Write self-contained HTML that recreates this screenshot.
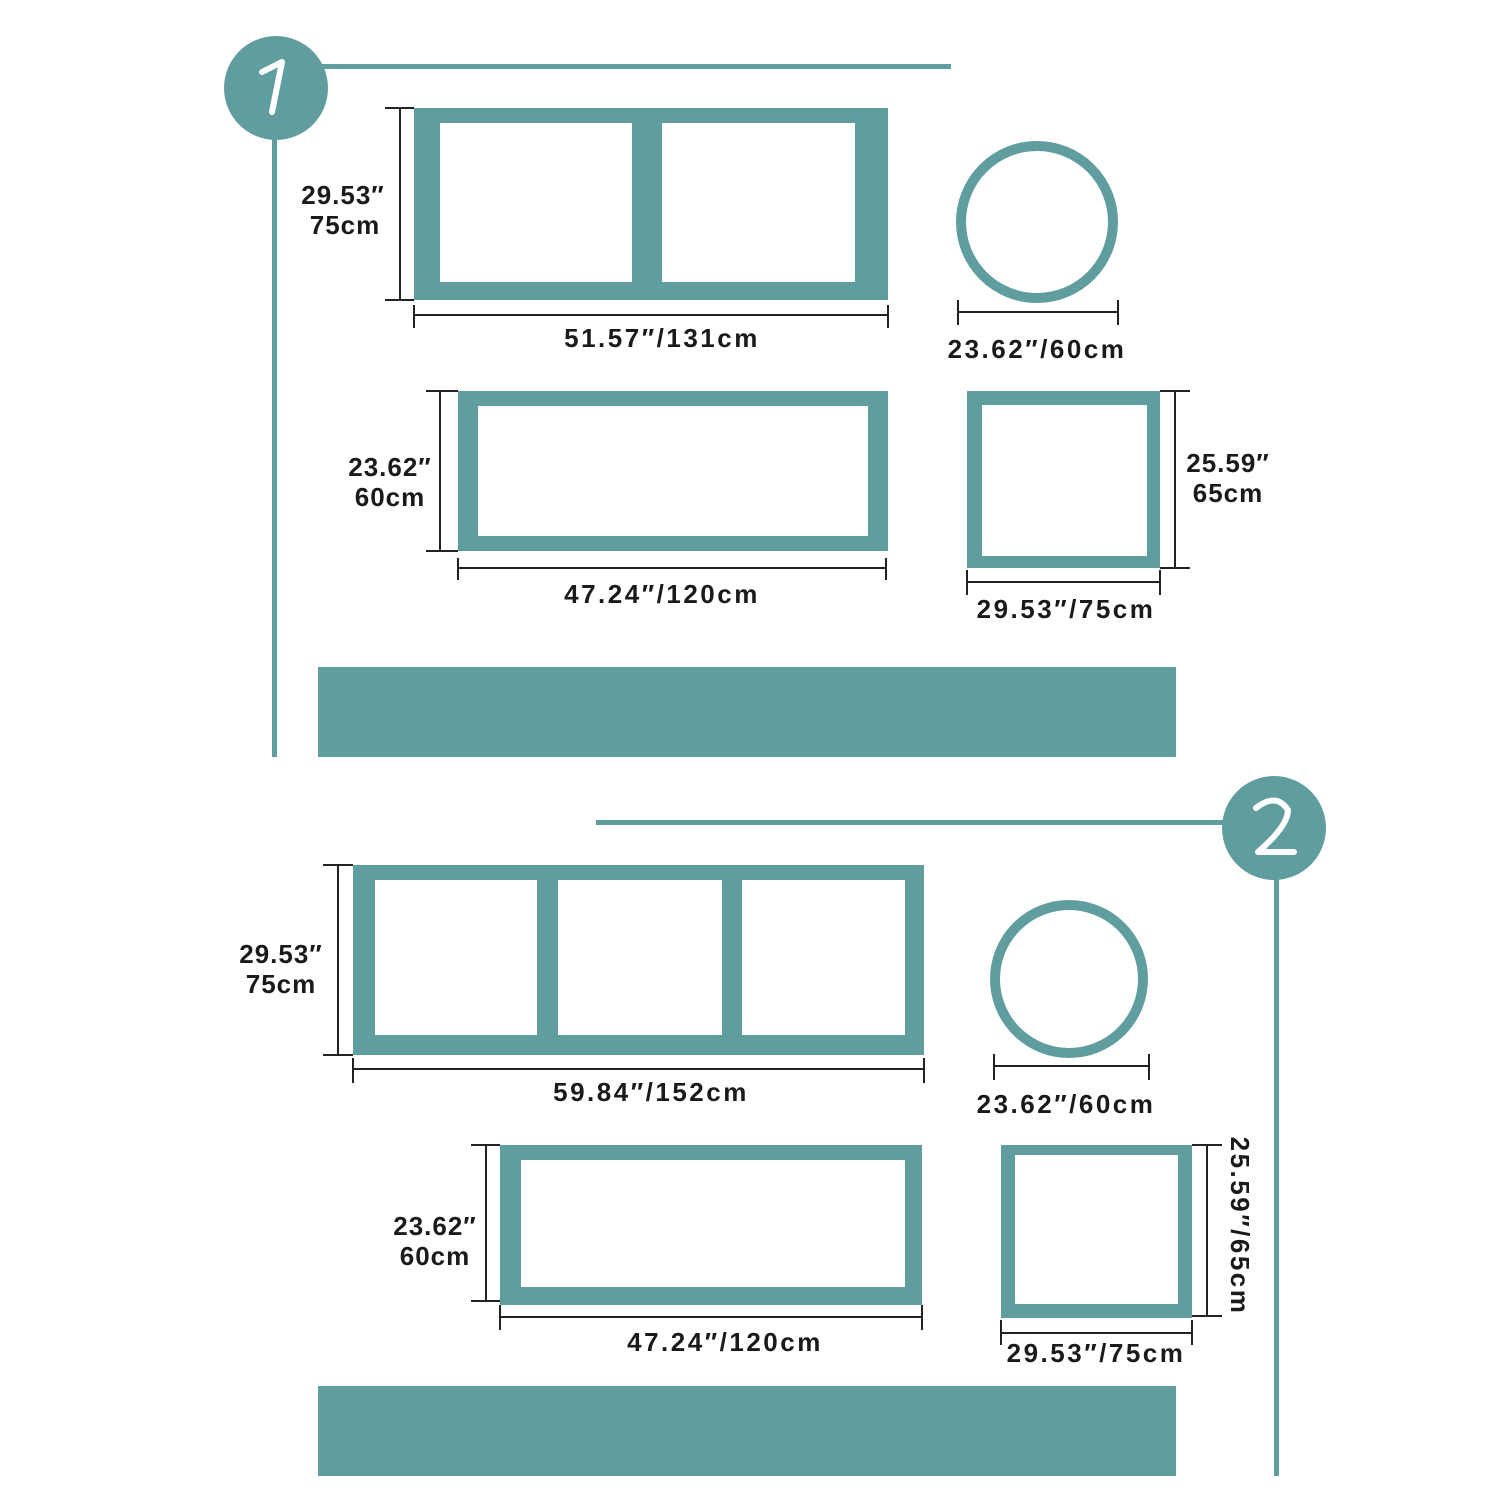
<!DOCTYPE html>
<html><head><meta charset="utf-8"><style>
html,body{margin:0;padding:0;background:#fff}
text{font-family:"Liberation Sans",sans-serif;font-weight:bold;font-size:26px;fill:#1a1a1a;letter-spacing:1px}
text.wide{letter-spacing:2.5px}
</style></head><body>
<svg width="1500" height="1500" viewBox="0 0 1500 1500" xmlns="http://www.w3.org/2000/svg">
<g fill="#609d9f" stroke="none">
<rect x="320" y="64" width="631" height="5"/>
<rect x="272" y="120" width="5" height="637"/>
<circle cx="276" cy="88" r="52"/>
<rect x="414" y="108" width="474" height="192"/>
<rect x="458" y="391" width="430" height="160"/>
<rect x="967" y="391" width="193" height="177"/>
<rect x="318" y="667" width="858" height="90"/>
<rect x="596" y="820" width="630" height="5"/>
<rect x="1274" y="860" width="5" height="616"/>
<circle cx="1274" cy="828" r="52"/>
<rect x="353" y="865" width="571" height="190"/>
<rect x="500" y="1145" width="422" height="160"/>
<rect x="1001" y="1145" width="191" height="173"/>
<rect x="318" y="1386" width="858" height="90"/>
</g>
<g fill="#fff">
<rect x="440" y="123" width="192" height="159"/>
<rect x="662" y="123" width="193" height="159"/>
<rect x="478" y="406" width="390" height="130"/>
<rect x="982" y="405" width="165" height="151"/>
<rect x="375" y="880" width="162" height="155"/>
<rect x="558" y="880" width="164" height="155"/>
<rect x="742" y="880" width="163" height="155"/>
<rect x="521" y="1160" width="384" height="127"/>
<rect x="1015" y="1155" width="163" height="149"/>
</g>
<g fill="none" stroke="#609d9f" stroke-width="10">
<circle cx="1037" cy="222" r="76"/>
<circle cx="1069" cy="979" r="74"/>
</g>
<g fill="none" stroke="#fff" stroke-width="6" stroke-linecap="round" stroke-linejoin="round">
<path d="M262 72 L282 62 L272 112"/>
<path d="M1256 808 Q1276 792 1288 810 Q1288 826 1258 852 L1294 852"/>
</g>
<g stroke="#222" stroke-width="2" fill="none">
<path d="M400 108V300M385 108H414M385 300H414"/>
<path d="M414 315H888M414 305V328M888 305V328"/>
<path d="M958 312H1118M958 300V325M1118 300V325"/>
<path d="M440 391V551M426 391H458M426 551H458"/>
<path d="M458 568H886M458 558V580M886 558V580"/>
<path d="M1175 391V568M1160 391H1190M1160 568H1190"/>
<path d="M967 582H1160M967 570V595M1160 570V595"/>
<path d="M338 865V1055M323 865H353M323 1055H353"/>
<path d="M353 1069H924M353 1058V1083M924 1058V1083"/>
<path d="M994 1066H1149M994 1054V1080M1149 1054V1080"/>
<path d="M486 1145V1301M471 1145H500M471 1301H500"/>
<path d="M500 1317H922M500 1305V1330M922 1305V1330"/>
<path d="M1207 1145V1316M1192 1145H1222M1192 1316H1222"/>
<path d="M1001 1333H1192M1001 1320V1345M1192 1320V1345"/>
</g>
<g text-anchor="middle">
<text x="343" y="204">29.53″</text><text x="345" y="234">75cm</text>
<text class="wide" x="662" y="347">51.57″/131cm</text>
<text class="wide" x="1037" y="358">23.62″/60cm</text>
<text x="390" y="476">23.62″</text><text x="390" y="506">60cm</text>
<text class="wide" x="662" y="603">47.24″/120cm</text>
<text x="1228" y="472">25.59″</text><text x="1228" y="502">65cm</text>
<text class="wide" x="1066" y="618">29.53″/75cm</text>
<text x="281" y="963">29.53″</text><text x="281" y="993">75cm</text>
<text class="wide" x="651" y="1101">59.84″/152cm</text>
<text class="wide" x="1066" y="1113">23.62″/60cm</text>
<text x="435" y="1235">23.62″</text><text x="435" y="1265">60cm</text>
<text class="wide" x="725" y="1351">47.24″/120cm</text>
<text class="wide" x="1096" y="1362">29.53″/75cm</text>
<text class="wide" transform="translate(1231,1226) rotate(90)">25.59″/65cm</text>
</g>
</svg>
</body></html>
